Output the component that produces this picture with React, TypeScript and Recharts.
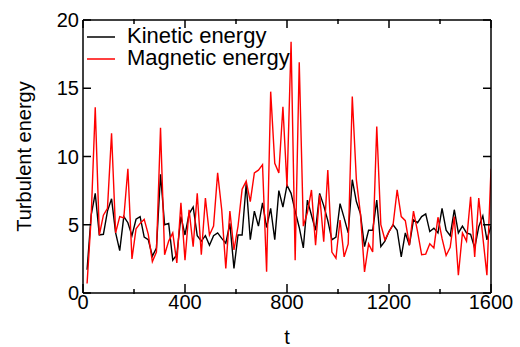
import { LineChart, Line, XAxis, YAxis } from "recharts";

// sample times
const T = [
  16, 32, 48, 64, 80, 96, 112, 128, 144, 160,
  176, 192, 208, 224, 240, 256, 272, 288, 304, 320,
  336, 352, 368, 384, 400, 416, 432, 448, 464, 480,
  496, 512, 528, 544, 560, 576, 592, 608, 624, 640,
  656, 672, 688, 704, 720, 736, 752, 768, 784, 800,
  816, 832, 848, 864, 880, 896, 912, 928, 944, 960,
  976, 992, 1008, 1024, 1040, 1056, 1072, 1088, 1104, 1120,
  1136, 1152, 1168, 1184, 1200, 1216, 1232, 1248, 1264, 1280,
  1296, 1312, 1328, 1344, 1360, 1376, 1392, 1408, 1424, 1440,
  1456, 1472, 1488, 1504, 1520, 1536, 1552, 1568, 1584, 1600,
];

const KINETIC = [
  1.7, 5.7, 7.3, 4.25, 4.3, 6.0, 6.9, 4.4, 3.1, 5.6,
  5.15, 4.2, 5.4, 5.6, 4.1, 3.9, 2.7, 3.3, 8.7, 5.0,
  5.1, 2.4, 2.8, 5.6, 4.25, 5.8, 6.3, 4.2, 3.8, 4.2,
  3.5, 4.2, 4.4, 4.0, 3.65, 5.1, 1.8, 4.25, 4.25, 8.0,
  3.9, 6.0, 4.9, 6.6, 4.8, 6.2, 3.9, 7.5, 6.3, 7.9,
  7.3, 6.0, 4.8, 3.3, 6.8, 5.7, 4.6, 7.3, 6.4, 5.3,
  3.9, 4.1, 6.55, 5.5, 4.4, 8.3, 6.7, 5.8, 3.4, 4.6,
  4.6, 6.8, 3.4, 3.8, 4.5, 5.0, 4.6, 2.65, 4.4, 3.5,
  5.35, 5.15, 5.6, 5.8, 4.5, 4.75, 4.4, 6.2, 4.6, 4.2,
  6.1, 4.4, 4.9, 4.4, 4.3, 3.3, 4.85, 5.65, 3.9, 4.9,
];

const MAGNETIC = [
  0.7, 5.5, 13.6, 4.25, 5.7, 6.2, 11.7, 4.4, 5.6, 5.5,
  9.1, 2.5, 4.7, 5.1, 5.4, 4.3, 2.3, 3.0, 12.1, 2.8,
  3.8, 4.4, 2.2, 6.6, 2.4, 6.1, 3.4, 7.3, 2.8, 6.95,
  4.25, 4.9, 8.8, 6.1, 1.8, 6.0, 3.15, 4.9, 7.6, 8.2,
  6.7, 8.8, 9.0, 9.4, 1.56, 14.75, 9.5, 8.8, 13.65, 7.8,
  18.4, 2.4, 16.9, 4.9, 5.9, 7.55, 3.5, 7.2, 3.75, 9.0,
  3.0, 2.55, 5.35, 2.65, 3.6, 14.4, 8.3, 5.8, 1.55, 3.6,
  3.0, 12.2, 5.0, 3.9, 4.5, 5.0, 7.55, 5.6, 5.3, 3.5,
  6.0, 4.5, 2.8, 2.85, 3.6, 3.3, 5.55, 4.0, 2.75, 3.35,
  5.6, 1.3, 4.4, 3.8, 7.05, 2.65, 6.95, 4.1, 1.3, 9.1,
];

const X_MAJOR = [0, 400, 800, 1200, 1600];
const X_MINOR = [200, 600, 1000, 1400];
const Y_TICKS = [0, 5, 10, 15, 20];

const data = T.map((t, i) => ({ t, kin: KINETIC[i], mag: MAGNETIC[i] }));

const font = "'Liberation Sans', Arial, sans-serif";
const tickStyle = { fontSize: 20, fill: "#000", fontFamily: font };
const frame = { stroke: "#000", strokeWidth: 1.5 };
const blank = () => "";

export default function App() {
  return (
    <div style={{ position: "absolute", left: 0, top: 0, width: 520, height: 347, background: "#fff" }}>
      {/* axes get 1px each (0 would hide them), margins take up the rest */}
      <LineChart width={520} height={347} data={data} margin={{ top: 18, right: 28, bottom: 52, left: 82 }}>
        <XAxis
          xAxisId="b" dataKey="t" type="number" domain={[0, 1600]} allowDataOverflow
          ticks={X_MAJOR} height={1} tickSize={-9} tickMargin={11}
          tick={tickStyle} axisLine={frame} tickLine={frame}
          label={{ value: "t", position: "bottom", offset: 36, style: { fontSize: 20, fill: "#000", fontFamily: font } }}
        />
        <XAxis
          xAxisId="bm" dataKey="t" type="number" domain={[0, 1600]} allowDataOverflow
          ticks={X_MINOR} height={1} tickSize={-5} tickFormatter={blank}
          axisLine={false} tickLine={frame}
        />
        <XAxis
          xAxisId="t" orientation="top" dataKey="t" type="number" domain={[0, 1600]} allowDataOverflow
          ticks={X_MAJOR} height={1} tickSize={-8} tickFormatter={blank}
          axisLine={frame} tickLine={frame}
        />
        <XAxis
          xAxisId="tm" orientation="top" dataKey="t" type="number" domain={[0, 1600]} allowDataOverflow
          ticks={X_MINOR} height={1} tickSize={-5} tickFormatter={blank}
          axisLine={false} tickLine={frame}
        />
        <YAxis
          yAxisId="l" type="number" domain={[0, 20]} allowDataOverflow
          ticks={Y_TICKS} width={1} tickSize={-8} tickMargin={12}
          tick={tickStyle} axisLine={frame} tickLine={frame}
          label={{ value: "Turbulent energy", angle: -90, position: "left", offset: 58, textAnchor: "middle", style: { fontSize: 20, fill: "#000", fontFamily: font } }}
        />
        <YAxis
          yAxisId="r" orientation="right" type="number" domain={[0, 20]} allowDataOverflow
          ticks={Y_TICKS} width={1} tickSize={-8} tickFormatter={blank}
          axisLine={frame} tickLine={frame}
        />
        <Line xAxisId="b" yAxisId="l" dataKey="kin" stroke="#000" strokeWidth={1.4} dot={false} isAnimationActive={false} />
        <Line xAxisId="b" yAxisId="l" dataKey="mag" stroke="#ff0000" strokeWidth={1.4} dot={false} isAnimationActive={false} />
      </LineChart>

      {/* legend, top-left inside the frame */}
      <svg width={520} height={347} style={{ position: "absolute", left: 0, top: 0, pointerEvents: "none" }}>
        <line x1={87} y1={37} x2={115} y2={37} stroke="#000" strokeWidth={1.5} />
        <text x={127} y={43} fontSize={22} fontFamily={font} fill="#000">Kinetic energy</text>
        <line x1={87} y1={59} x2={115} y2={59} stroke="#ff0000" strokeWidth={1.5} />
        <text x={127} y={65} fontSize={22} fontFamily={font} fill="#000">Magnetic energy</text>
      </svg>
    </div>
  );
}
